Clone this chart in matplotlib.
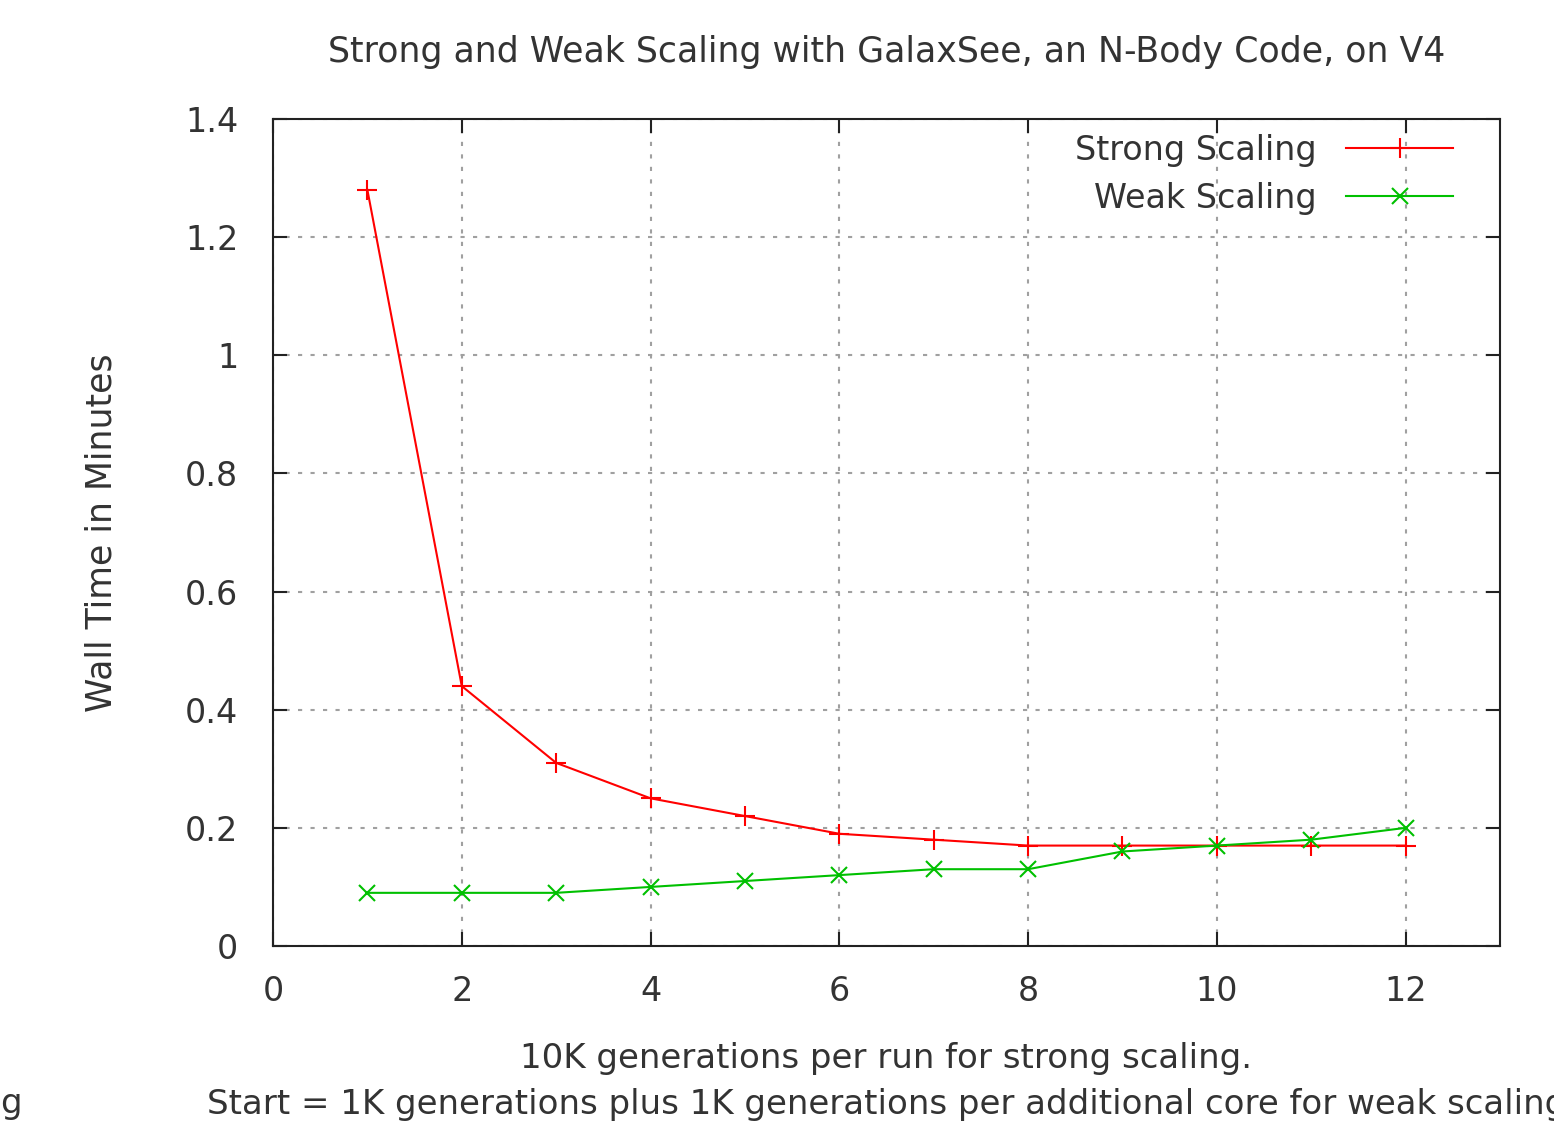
import matplotlib
matplotlib.use("Agg")
import matplotlib.pyplot as plt
from matplotlib.ticker import FuncFormatter, MultipleLocator

plt.rcParams['font.family'] = ['DejaVu Sans']

cores = [1, 2, 3, 4, 5, 6, 7, 8, 9, 10, 11, 12]
strong = [1.28, 0.44, 0.31, 0.25, 0.22, 0.19, 0.18, 0.17, 0.17, 0.17, 0.17, 0.17]
weak = [0.09, 0.09, 0.09, 0.10, 0.11, 0.12, 0.13, 0.13, 0.16, 0.17, 0.18, 0.20]

title = "Strong and Weak Scaling with GalaxSee, an N-Body Code, on V4"
xlabel = ("10K generations per run for strong scaling.\n"
          "Start = 1K generations plus 1K generations per additional core for weak scaling")
ylabel = "Wall Time in Minutes"

txt = '#333333'
fig = plt.figure(figsize=(15.54, 11.27), dpi=100)
ax = fig.add_axes([273/1554, 1-946/1127, (1500-273)/1554, (946-119)/1127])

ax.plot(cores, strong, color='#ff0000', lw=1.5, marker='+', ms=14, mew=1.5,
        label='Strong Scaling')
ax.plot(cores, weak, color='#00c000', lw=1.5, marker='x', ms=11, mew=1.5,
        label='Weak Scaling')

ax.set_xlim(0, 13)
ax.set_ylim(0, 1.4)
ax.xaxis.set_major_locator(MultipleLocator(2))
ax.yaxis.set_major_locator(MultipleLocator(0.2))
ax.yaxis.set_major_formatter(FuncFormatter(lambda v, p: '%g' % round(v, 6)))
ax.grid(True, color='#a0a0a0', linestyle=(0, (2, 4)), lw=1.5)
ax.tick_params(direction='in', length=10, width=1.5, top=True, right=True,
               labelsize=24, labelcolor=txt, pad=21, color='#222222')
ax.tick_params(axis='y', pad=25)
for s in ax.spines.values():
    s.set_linewidth(1.5)
    s.set_color('#222222')

ax.set_title(title, fontsize=25, color=txt, pad=41)
ax.set_xlabel(xlabel, fontsize=24.5, color=txt, labelpad=24.5, linespacing=1.48)
ax.set_ylabel(ylabel, fontsize=25, color=txt, labelpad=48)
fig.text(0, 1-1103/1127, 'g', fontsize=24.5, color=txt, ha='left', va='center')

leg = ax.legend(loc='upper right', bbox_to_anchor=(0.974, 1.0), frameon=False,
                markerfirst=False, fontsize=24, handlelength=3.2,
                labelspacing=0.45, borderaxespad=0.15, handletextpad=0.9,
                borderpad=0.3)
for t in leg.get_texts():
    t.set_color(txt)
    t.set_ha('right')

fig.savefig('out.png', dpi=100)
